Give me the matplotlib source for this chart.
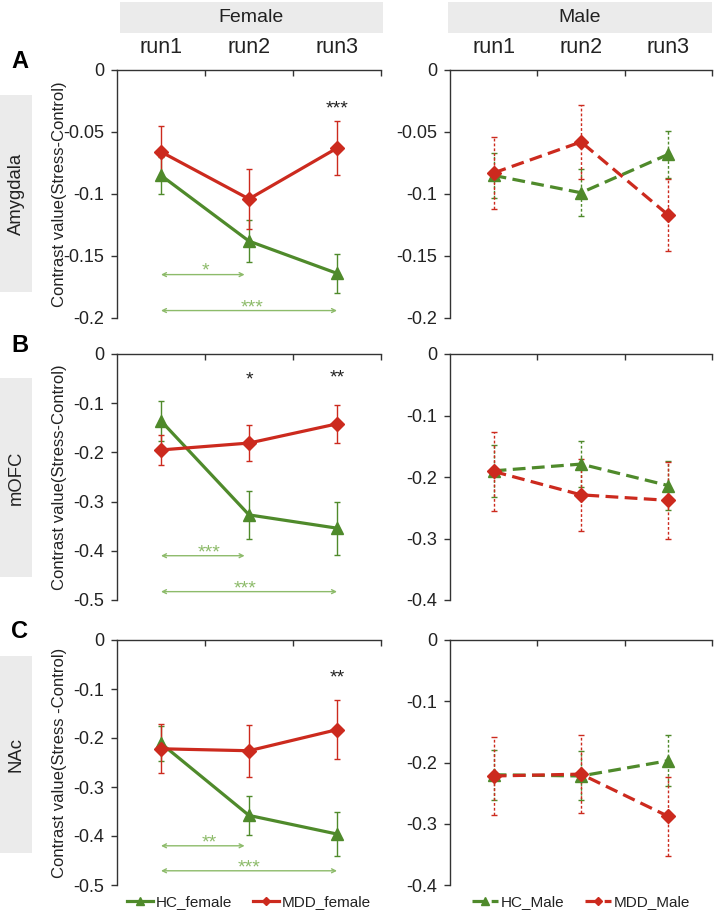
import matplotlib

matplotlib.use("Agg")
import matplotlib.pyplot as plt
from matplotlib.lines import Line2D
from matplotlib.patches import Rectangle
from matplotlib.ticker import FixedLocator, FuncFormatter

plt.rcParams["font.family"] = ["Liberation Sans", "DejaVu Sans"]
plt.rcParams["axes.unicode_minus"] = False

GREEN = "#4f8a2b"
RED = "#cc2a1e"
ARROW = "#8dbb6a"
BOX = "#ebebeb"
INK = "#222222"

runs = ["run1", "run2", "run3"]
sexes = ["Female", "Male"]
regions = ["Amygdala", "mOFC", "NAc"]
letters = ["A", "B", "C"]

# female
hc_female = [[-0.085, -0.138, -0.164], [-0.136, -0.327, -0.354], [-0.211, -0.358, -0.396]]
hc_female_err = [[0.015, 0.017, 0.016], [0.041, 0.049, 0.054], [0.035, 0.040, 0.044]]
mdd_female = [[-0.066, -0.104, -0.063], [-0.195, -0.181, -0.142], [-0.222, -0.226, -0.183]]
mdd_female_err = [[0.021, 0.024, 0.022], [0.030, 0.036, 0.039], [0.050, 0.053, 0.060]]
# male
hc_male = [[-0.085, -0.099, -0.068], [-0.190, -0.179, -0.214], [-0.220, -0.222, -0.197]]
hc_male_err = [[0.018, 0.019, 0.019], [0.042, 0.037, 0.040], [0.041, 0.040, 0.042]]
mdd_male = [[-0.083, -0.058, -0.117], [-0.191, -0.229, -0.238], [-0.222, -0.219, -0.288]]
mdd_male_err = [[0.029, 0.030, 0.029], [0.064, 0.058, 0.062], [0.064, 0.064, 0.065]]

ylims_female = [-0.2, -0.5, -0.5]
ylims_male = [-0.2, -0.4, -0.4]
ysteps = [0.05, 0.1, 0.1]
ylabels = ["Contrast value(Stress-Control)", "Contrast value(Stress-Control)",
           "Contrast value(Stress -Control)"]
legend_labels = [["HC_female", "MDD_female"], ["HC_Male", "MDD_Male"]]

# group difference (MDD vs HC) stars, female panels: (run index, y, text)
group_stars = [[(3, -0.028, "***")],
               [(2, -0.046, "*"), (3, -0.041, "**")],
               [(3, -0.070, "**")]]
# within-HC run comparisons: (x_end, arrow y, text x, text y, text)
run_stars = [[(1.95, -0.165, 1.5, -0.159, "*"), (3, -0.194, 2.03, -0.189, "***")],
             [(1.95, -0.410, 1.55, -0.396, "***"), (3, -0.483, 1.95, -0.470, "***")],
             [(1.95, -0.420, 1.55, -0.406, "**"), (3, -0.471, 2.0, -0.458, "***")]]

W, H = 716, 911
fig = plt.figure(figsize=(W / 100, H / 100), dpi=100, facecolor="white")

rows_px = [(70, 318), (354, 600), (640, 885)]
cols_px = [(117, 381), (450, 712)]
label_boxes = [(95, 292), (378, 577), (656, 853)]
fmt = FuncFormatter(lambda v, p: "0" if abs(v) < 1e-9 else f"{v:g}")

DASH_LINE = (0, (4, 2))
DASH_ERR = (0, (2, 1.5))


def draw_series(ax, x, y, err, color, marker, ms, dashed):
    ls = DASH_LINE if dashed else "-"
    cont = ax.errorbar(x, y, yerr=err, color=color, linestyle=ls, linewidth=2.3,
                       marker=marker, markersize=ms, markeredgecolor=color,
                       ecolor=color, elinewidth=1.0, capsize=2.5, capthick=1.0)
    if dashed:
        for lc in cont[2]:
            lc.set_linestyle(DASH_ERR)


def stars(ax, xx, yy, t, color):
    # asterisks sit high in the glyph box, so anchor on baseline and drop a bit
    ax.annotate(t, (xx, yy), xytext=(0, -6), textcoords="offset points",
                ha="center", va="baseline", fontsize=14, color=color)


x = [1, 2, 3]
for r in range(3):
    top, bot = rows_px[r]
    for c in range(2):
        left, right = cols_px[c]
        ax = fig.add_axes([left / W, 1 - bot / H, (right - left) / W, (bot - top) / H])
        female = c == 0
        ymin = ylims_female[r] if female else ylims_male[r]
        if female:
            draw_series(ax, x, hc_female[r], hc_female_err[r], GREEN, "^", 9, False)
            draw_series(ax, x, mdd_female[r], mdd_female_err[r], RED, "D", 7, False)
        else:
            draw_series(ax, x, hc_male[r], hc_male_err[r], GREEN, "^", 9, True)
            draw_series(ax, x, mdd_male[r], mdd_male_err[r], RED, "D", 7, True)

        ax.set_xlim(0.5, 3.5)
        ax.set_ylim(ymin, 0)
        n = int(round(-ymin / ysteps[r]))
        ax.yaxis.set_major_locator(FixedLocator([-i * ysteps[r] for i in range(n + 1)]))
        ax.yaxis.set_major_formatter(fmt)
        ax.xaxis.tick_top()
        ax.xaxis.set_major_locator(FixedLocator([1.5, 2.5, 3.5]))
        ax.set_xticklabels([])
        ax.tick_params(axis="x", direction="in", length=4, width=1, color="#333333")
        ax.tick_params(axis="y", direction="out", length=4, width=1, color="#333333",
                       labelsize=13, labelcolor=INK, pad=5)
        for s in ("bottom", "right"):
            ax.spines[s].set_visible(False)
        for s in ("top", "left"):
            ax.spines[s].set_color("#333333")
            ax.spines[s].set_linewidth(1.0)
        ax.set_facecolor("none")

        if r == 0:
            for i, lab in enumerate(runs):
                ax.text(i + 1, 1.09, lab, transform=ax.get_xaxis_transform(),
                        ha="center", va="center", fontsize=15.5, color=INK)

        if female:
            for (ri, yy, t) in group_stars[r]:
                stars(ax, ri, yy, t, INK)
            for (xe, ya, tx, ty, t) in run_stars[r]:
                ax.annotate("", xy=(xe, ya), xytext=(1, ya),
                            arrowprops=dict(arrowstyle="<->", color=ARROW, lw=1.0,
                                            mutation_scale=7, shrinkA=0, shrinkB=0))
                stars(ax, tx, ty, t, ARROW)
            fig.text(60 / W, 1 - (top + bot) / 2 / H, ylabels[r], rotation=90,
                     ha="center", va="center", fontsize=12, color=INK)

        if r == 2:
            ls = "-" if female else DASH_LINE
            handles = [Line2D([], [], color=GREEN, ls=ls, lw=2.3, marker="^", markersize=6),
                       Line2D([], [], color=RED, ls=ls, lw=2.3, marker="D", markersize=4.5)]
            leg = ax.legend(handles, legend_labels[c], loc="upper center", ncol=2,
                            bbox_to_anchor=(0.5, 0.0), frameon=False, fontsize=11,
                            handlelength=1.7, handletextpad=0.15, columnspacing=1.4,
                            borderaxespad=0.45, borderpad=0.2)
            for t in leg.get_texts():
                t.set_color(INK)

    # row label box + panel letter
    b0, b1 = label_boxes[r]
    fig.patches.append(Rectangle((0, 1 - b1 / H), 32 / W, (b1 - b0) / H,
                                 transform=fig.transFigure, facecolor=BOX,
                                 edgecolor="none"))
    fig.text(16 / W, 1 - (b0 + b1) / 2 / H, regions[r], rotation=90,
             ha="center", va="center", fontsize=13.3, color=INK)
    fig.text(20 / W, 1 - (top - 8) / H, letters[r], ha="center", va="center",
             fontsize=17, fontweight="bold", color="black")

# sex header boxes
for (x0, x1), name in zip([(120, 383), (448, 712)], sexes):
    fig.patches.append(Rectangle((x0 / W, 1 - 33 / H), (x1 - x0) / W, 31 / H,
                                 transform=fig.transFigure, facecolor=BOX,
                                 edgecolor="none"))
    fig.text((x0 + x1) / 2 / W, 1 - 17 / H, name, ha="center", va="center",
             fontsize=14, color=INK)

fig.savefig("out.png", dpi=100, facecolor="white")
